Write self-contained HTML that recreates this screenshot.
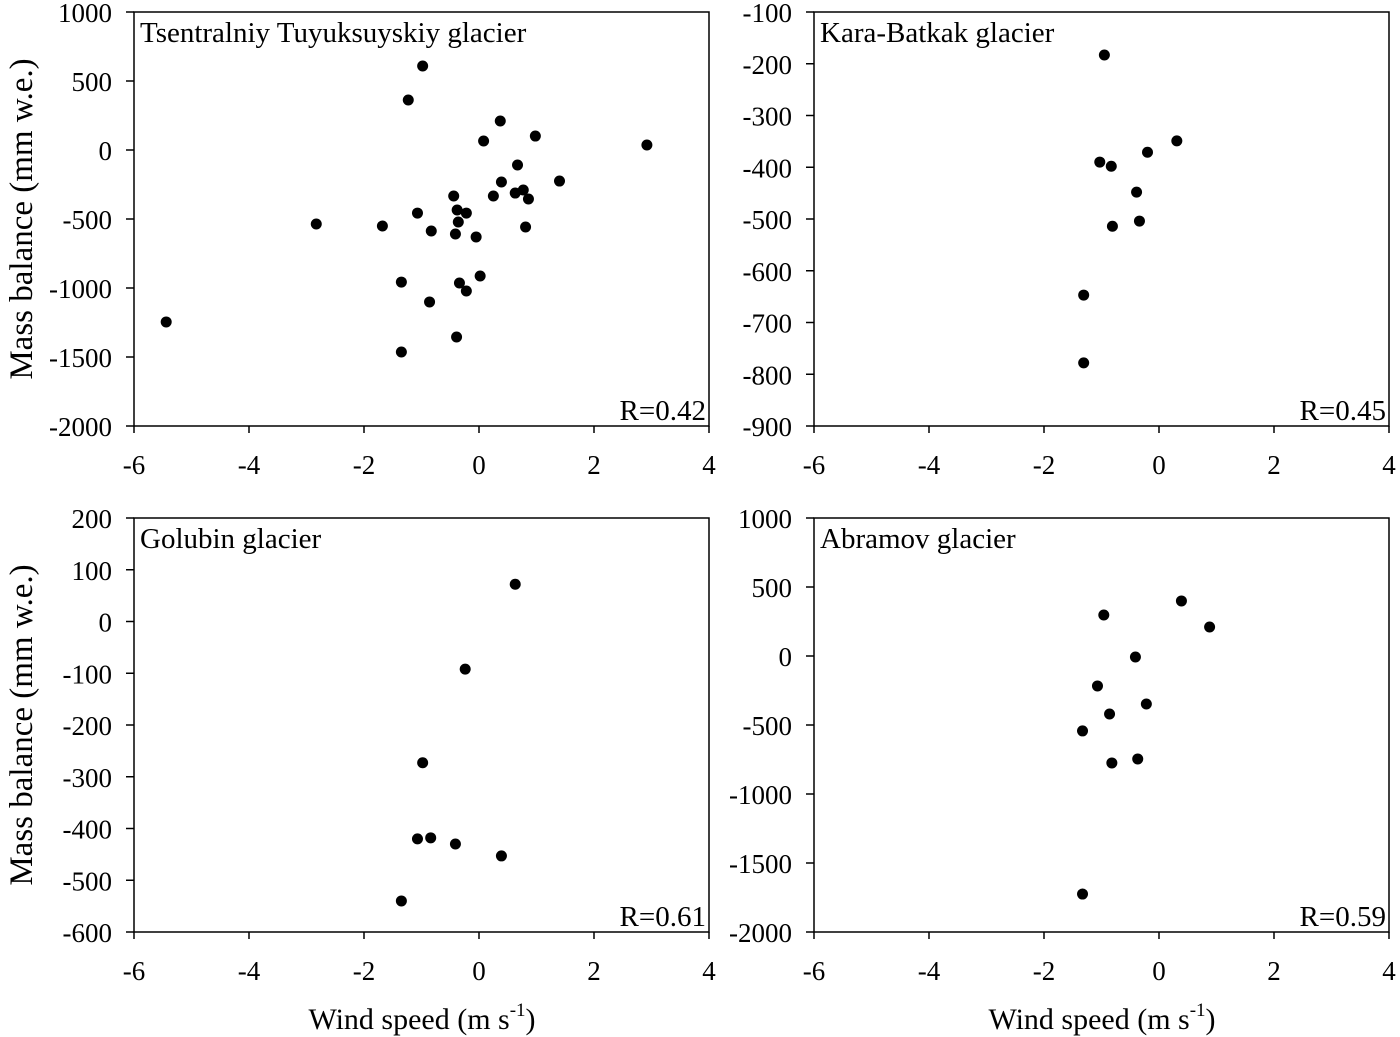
<!DOCTYPE html>
<html><head><meta charset="utf-8"><style>
body{margin:0;background:#fff;}
svg{display:block;}
svg text{font-family:"Liberation Serif",serif;}
</style></head><body>
<svg id="chart" width="1400" height="1037" viewBox="0 0 1400 1037"></svg>
<script>
const p1x=[-0.98,-1.23,0.37,0.08,0.98,2.92,0.67,0.39,1.40,-0.44,0.25,0.63,0.77,0.86,-1.07,-0.38,-0.22,-0.36,-1.68,-0.83,-0.41,-0.05,0.81,-1.35,-0.34,-0.22,0.02,-0.86,-0.39,-1.35,-5.44,-2.83];
const p1y=[609,362,210,65,101,36,-109,-232,-225,-333,-333,-312,-290,-355,-457,-435,-457,-522,-551,-587,-609,-630,-558,-957,-964,-1022,-913,-1101,-1355,-1464,-1246,-536];
const p2x=[-0.95,0.31,-0.2,-1.03,-0.83,-0.39,-0.34,-0.81,-1.31,-1.31];
const p2y=[-183,-349,-371,-390,-398,-448,-504,-514,-647,-778];
const p3x=[0.63,-0.24,-0.98,-1.07,-0.84,-0.41,0.39,-1.35];
const p3y=[72,-92,-273,-420,-418,-430,-453,-540];
const p4x=[0.39,0.88,-0.96,-0.41,-1.07,-0.22,-0.86,-1.33,-0.37,-0.82,-1.33];
const p4y=[399,210,297,-7,-217,-348,-420,-543,-746,-775,-1725];
const xTicks=[-6,-4,-2,0,2,4];
const yTicks1=[1000,500,0,-500,-1000,-1500,-2000];
const yTicks2=[-100,-200,-300,-400,-500,-600,-700,-800,-900];
const yTicks3=[200,100,0,-100,-200,-300,-400,-500,-600];
const yTicks4=[1000,500,0,-500,-1000,-1500,-2000];
const titles=["Tsentralniy Tuyuksuyskiy glacier","Kara-Batkak glacier","Golubin glacier","Abramov glacier"];
const rLabels=["R=0.42","R=0.45","R=0.61","R=0.59"];

const NS="http://www.w3.org/2000/svg";
const svg=document.getElementById('chart');
function mk(tag,attrs,parent,text){const e=document.createElementNS(NS,tag);for(const k in attrs)e.setAttribute(k,attrs[k]);if(text!==undefined)e.textContent=text;(parent||svg).appendChild(e);return e;}

const panels=[
 {l:134,t:12,xs:p1x,ys:p1y,yt:yTicks1},
 {l:814,t:12,xs:p2x,ys:p2y,yt:yTicks2},
 {l:134,t:518,xs:p3x,ys:p3y,yt:yTicks3},
 {l:814,t:518,xs:p4x,ys:p4y,yt:yTicks4}];
const W=575,H=414;
panels.forEach((p,i)=>{
 const g=mk('g',{});
 
 
 const ymax=p.yt[0],ymin=p.yt[p.yt.length-1];
 const sx=v=>p.l+(v-(-6))/10*W;
 const sy=v=>p.t+(ymax-v)/(ymax-ymin)*H;
 const box=mk('rect',{x:p.l,y:p.t,width:W,height:H,fill:'none',stroke:'#000','stroke-width':1.5},g);
 
 
 xTicks.forEach(v=>{
  mk('line',{x1:sx(v),x2:sx(v),y1:p.t+H,y2:p.t+H+7,stroke:'#000','stroke-width':1.5},g);
  const t=mk('text',{x:sx(v),y:p.t+H+48,'text-anchor':'middle','font-size':27},g,String(v));
  
  
 });
 p.yt.forEach(v=>{
  mk('line',{x1:p.l-8,x2:p.l,y1:sy(v),y2:sy(v),stroke:'#000','stroke-width':1.5},g);
  const t=mk('text',{x:p.l-22,y:sy(v)+10,'text-anchor':'end','font-size':27},g,String(v));
  
  
 });
 p.xs.forEach((x,j)=>{
  const c=mk('circle',{cx:sx(x),cy:sy(p.ys[j]),r:5.5,fill:'#000'},g);
  
  
 });
 const tt=mk('text',{x:p.l+6,y:p.t+30,'font-size':29},g,titles[i]);
 
 
 const rl=mk('text',{x:p.l+W-3,y:p.t+H-6,'text-anchor':'end','font-size':29},g,rLabels[i]);
 
 
});
[219,725].forEach(cy=>{
 const t=mk('text',{x:0,y:0,'text-anchor':'middle','font-size':33,transform:`translate(32,${cy}) rotate(-90)`},svg,'Mass balance (mm w.e.)');
 
 
});
[422,1102].forEach(cx=>{
 const t=mk('text',{x:cx,y:1029,'text-anchor':'middle','font-size':30},svg);
 
 
 t.appendChild(document.createTextNode('Wind speed (m s'));
 mk('tspan',{dy:-13,'font-size':19},t,'-1');
 mk('tspan',{dy:13},t,')');
});
</script>
</body></html>
